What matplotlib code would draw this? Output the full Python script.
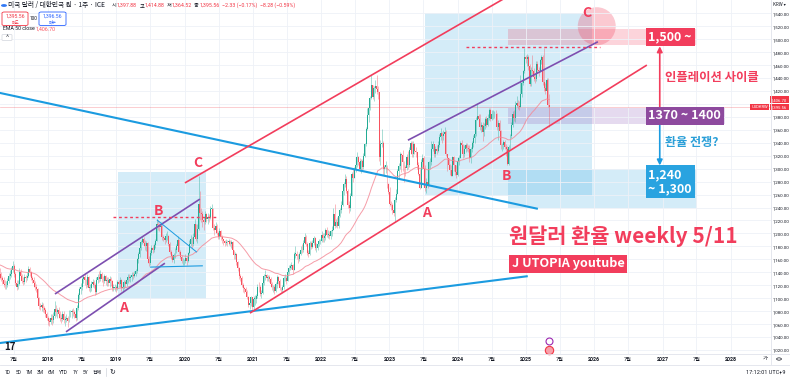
import numpy as np
import pandas as pd
import matplotlib
matplotlib.use("Agg")
import matplotlib.pyplot as plt
import matplotlib.dates as mdates
import matplotlib.transforms as mtrans
from matplotlib.patches import Rectangle, Ellipse, FancyBboxPatch, Circle
from matplotlib.lines import Line2D

plt.rcParams['font.family'] = ['Noto Sans CJK KR', 'DejaVu Sans']

# ---------------- data: weekly USD/KRW (close, high, low) ----------------
warmup_2016_close = [1196, 1203, 1210, 1199, 1197, 1211, 1234, 1239, 1204, 1189, 1180, 1162, 1145,
                     1152, 1145, 1140, 1140, 1160, 1172, 1190, 1185, 1165, 1166, 1172, 1165, 1152,
                     1150, 1145, 1138, 1120, 1115, 1105, 1120, 1125, 1120, 1110, 1118, 1110, 1101,
                     1112, 1127, 1135, 1142, 1140, 1170, 1167, 1177, 1170, 1167, 1182, 1198, 1207]

w2017 = [(1194,1212,1188),(1180,1200,1176),(1170,1186,1162),(1163,1176,1156),
         (1150,1166,1142),(1145,1156,1136),(1140,1150,1130),(1133,1143,1127),
         (1134,1140,1126),(1148,1160,1132),(1130,1152,1127),(1118,1133,1112),(1117,1124,1110),
         (1122,1128,1113),(1138,1142,1120),(1137,1146,1130),(1131,1140,1126),
         (1128,1135,1122),(1122,1133,1117),(1120,1128,1114),(1121,1126,1114),
         (1126,1131,1117),(1134,1139,1123),(1138,1143,1130),(1144,1148,1133),
         (1150,1158,1140),(1137,1153,1133),(1124,1140,1120),(1117,1128,1112),
         (1122,1128,1114),(1140,1146,1120),(1134,1145,1128),(1127,1138,1123),
         (1125,1133,1120),(1132,1138,1122),(1131,1136,1125),(1135,1140,1128),(1145,1150,1132),
         (1140,1148,1134),(1131,1142,1128),(1128,1135,1124),(1123,1132,1118),
         (1118,1126,1113),(1114,1122,1109),(1100,1116,1096),(1088,1102,1084),
         (1087,1092,1082),(1090,1094,1080),(1085,1093,1079),(1082,1088,1077),(1075,1085,1071),(1070,1078,1066)]

w2018 = [(1064,1072,1058),(1063,1070,1057),(1070,1075,1060),(1067,1076,1058),(1072,1078,1061),
         (1083,1095,1070),(1078,1090,1073),(1081,1085,1070),(1075,1086,1069),
         (1070,1080,1065),(1068,1075,1062),(1075,1080,1065),(1066,1080,1061),
         (1068,1072,1057),(1070,1076,1063),(1065,1072,1055),(1078,1082,1063),(1078,1082,1071),
         (1080,1084,1070),(1078,1085,1073),(1076,1082,1069),(1070,1080,1065),
         (1085,1090,1067),(1105,1108,1081),(1114,1118,1099),(1118,1124,1107),
         (1129,1133,1113),(1133,1136,1123),(1128,1138,1120),(1120,1130,1115),(1132,1138,1117),
         (1116,1135,1111),(1116,1122,1109),(1122,1126,1111),(1125,1130,1117),
         (1120,1128,1115),(1109,1124,1105),(1128,1132,1107),(1133,1138,1123),
         (1130,1142,1125),(1138,1144,1127),(1130,1140,1125),(1126,1134,1119),(1134,1138,1123),
         (1127,1136,1121),(1128,1132,1119),(1124,1132,1119),(1129,1134,1118),
         (1126,1132,1119),(1116,1128,1111),(1116,1122,1111),(1117,1122,1111),(1115,1120,1109)]

w2019 = [(1125,1128,1112),(1122,1128,1117),(1128,1132,1118),(1115,1130,1111),
         (1118,1122,1110),(1125,1128,1114),(1122,1128,1117),(1128,1132,1119),
         (1133,1137,1124),(1131,1138,1127),(1132,1136,1125),(1136,1140,1127),
         (1135,1140,1130),(1138,1142,1132),(1142,1145,1134),(1160,1162,1139),(1168,1172,1155),
         (1177,1180,1163),(1187,1190,1174),(1191,1196,1183),(1185,1195,1180),
         (1180,1190,1175),(1185,1188,1173),(1160,1187,1155),(1155,1165,1150),
         (1170,1175,1152),(1178,1182,1166),(1175,1182,1170),(1182,1185,1172),(1188,1192,1178),
         (1215,1223,1188),(1213,1220,1205),(1210,1216,1204),(1212,1218,1204),
         (1194,1215,1190),(1193,1198,1188),(1190,1196,1184),(1196,1200,1186),(1196,1204,1190),
         (1183,1198,1180),(1172,1186,1168),(1165,1175,1160),(1159,1168,1156),
         (1167,1170,1155),(1175,1178,1162),(1180,1184,1170),(1190,1196,1178),
         (1172,1192,1168),(1163,1175,1160),(1157,1166,1155),(1157,1162,1152),(1157,1160,1152)]

w2020 = [(1162,1168,1155),(1158,1165,1152),(1170,1172,1156),(1183,1190,1168),
         (1192,1198,1180),(1183,1195,1178),(1195,1200,1180),(1214,1222,1194),
         (1191,1215,1188),(1207,1215,1185),(1246,1288,1205),(1232,1265,1220),(1230,1240,1218),
         (1220,1235,1210),(1217,1225,1205),(1230,1235,1215),(1222,1232,1218),
         (1226,1232,1215),(1225,1230,1218),(1238,1242,1222),(1238,1245,1230),
         (1208,1240,1205),(1206,1215,1198),(1212,1218,1200),(1201,1215,1198),(1195,1204,1192),
         (1204,1208,1192),(1195,1206,1190),(1191,1198,1185),(1188,1192,1182),
         (1185,1190,1180),(1187,1192,1182),(1186,1190,1180),(1188,1192,1182),(1184,1190,1180),
         (1186,1190,1178),(1174,1188,1170),(1166,1175,1160),(1169,1172,1160),
         (1156,1170,1152),(1146,1158,1142),(1135,1148,1130),(1131,1138,1126),
         (1121,1134,1118),(1115,1124,1110),(1114,1118,1108),(1110,1118,1105),(1102,1112,1098),
         (1090,1104,1086),(1093,1098,1084),(1102,1104,1088),(1086,1102,1082)]

w2021 = [(1099,1104,1082),(1099,1105,1090),(1103,1106,1093),(1118,1122,1100),
         (1117,1125,1110),(1107,1120,1104),(1108,1112,1100),(1123,1128,1106),
         (1134,1138,1120),(1136,1143,1128),(1131,1138,1126),(1132,1136,1127),(1130,1136,1125),
         (1122,1132,1118),(1117,1125,1113),(1117,1120,1110),(1111,1120,1106),
         (1122,1125,1110),(1132,1136,1116),(1127,1135,1122),(1115,1130,1112),(1113,1118,1109),
         (1117,1120,1110),(1131,1135,1114),(1131,1138,1126),(1126,1134,1122),
         (1141,1145,1126),(1147,1152,1138),(1150,1153,1143),(1151,1156,1145),
         (1143,1153,1138),(1169,1172,1143),(1169,1180,1162),(1165,1173,1160),(1160,1168,1155),
         (1168,1172,1157),(1175,1180,1166),(1174,1184,1170),(1185,1190,1172),
         (1195,1200,1183),(1183,1198,1180),(1170,1186,1167),(1168,1175,1164),
         (1185,1188,1167),(1179,1188,1176),(1185,1190,1177),(1193,1196,1182),(1177,1195,1174),
         (1178,1185,1172),(1184,1188,1174),(1188,1192,1180),(1189,1192,1184)]

w2022 = [(1197,1204,1186),(1193,1200,1186),(1196,1200,1187),(1205,1208,1190),(1198,1210,1195),
         (1198,1205,1193),(1196,1203,1192),(1203,1206,1192),(1206,1212,1196),
         (1230,1240,1206),(1212,1245,1208),(1218,1222,1210),(1212,1226,1208),
         (1227,1230,1208),(1236,1240,1225),(1244,1250,1232),(1265,1272,1243),
         (1276,1280,1260),(1284,1292,1272),(1265,1288,1262),(1244,1268,1240),(1240,1250,1231),
         (1258,1262,1235),(1292,1295,1258),(1286,1300,1280),(1300,1303,1286),
         (1306,1311,1295),(1318,1326,1303),(1311,1320,1305),(1300,1316,1296),
         (1312,1315,1293),(1302,1315,1298),(1320,1324,1300),(1338,1340,1318),(1362,1365,1335),
         (1383,1393,1360),(1394,1400,1372),(1409,1413,1390),(1430,1444,1407),
         (1411,1430,1407),(1424,1428,1405),(1427,1437,1417),(1423,1444,1416),(1419,1428,1408),
         (1318,1419,1312),(1338,1344,1306),(1340,1362,1334),(1300,1342,1290),
         (1302,1306,1288),(1305,1312,1294),(1277,1305,1270),(1264,1278,1261)]

w2023 = [(1246,1272,1242),(1244,1250,1236),(1236,1247,1230),(1231,1238,1227),(1252,1256,1217),
         (1261,1268,1248),(1297,1300,1261),(1304,1308,1285),(1322,1325,1300),
         (1321,1324,1295),(1311,1329,1296),(1303,1312,1280),(1301,1306,1288),
         (1318,1322,1298),(1305,1327,1300),(1329,1333,1303),(1340,1343,1322),
         (1323,1343,1318),(1338,1342,1318),(1328,1340,1322),(1325,1334,1318),(1306,1325,1300),
         (1292,1310,1290),(1270,1300,1268),(1310,1315,1270),(1317,1322,1300),
         (1299,1319,1296),(1270,1305,1265),(1279,1285,1262),(1274,1285,1270),(1310,1312,1275),
         (1310,1317,1300),(1330,1342,1306),(1338,1343,1327),(1322,1338,1318),
         (1331,1335,1318),(1327,1336,1322),(1336,1342,1325),(1349,1354,1334),
         (1355,1363,1345),(1351,1357,1340),(1353,1359,1345),(1357,1364,1348),(1322,1360,1319),
         (1316,1320,1296),(1305,1316,1300),(1298,1307,1291),(1289,1305,1288),
         (1318,1320,1288),(1306,1319,1296),(1295,1306,1290),(1290,1305,1286)]

w2024 = [(1312,1318,1288),(1316,1321,1305),(1339,1343,1316),(1336,1344,1328),(1323,1338,1316),
         (1330,1336,1318),(1336,1340,1325),(1332,1340,1327),(1331,1337,1326),
         (1316,1336,1310),(1330,1334,1308),(1339,1343,1325),(1347,1352,1333),
         (1353,1357,1340),(1375,1380,1350),(1382,1400,1375),(1376,1384,1370),(1364,1384,1360),
         (1368,1372,1357),(1356,1372,1342),(1366,1370,1350),(1376,1380,1362),
         (1368,1382,1364),(1378,1385,1366),(1391,1394,1375),(1377,1393,1374),
         (1384,1390,1375),(1384,1390,1377),(1385,1389,1379),(1384,1390,1380),(1365,1386,1360),
         (1370,1375,1345),(1358,1375,1355),(1336,1360,1330),(1337,1340,1327),
         (1341,1345,1330),(1334,1344,1330),(1330,1338,1320),(1307,1335,1305),(1333,1336,1306),
         (1350,1353,1330),(1368,1372,1348),(1384,1389,1365),(1379,1390,1373),
         (1399,1404,1372),(1401,1412,1395),(1397,1406,1392),(1396,1405,1390),
         (1415,1445,1396),(1433,1437,1410),(1451,1453,1430),(1472,1487,1448),(1469,1475,1463)]

w2025 = [(1473,1477,1458),(1459,1475,1452),(1431,1461,1428),(1452,1457,1428),
         (1451,1475,1446),(1441,1455,1436),(1438,1446,1432),(1462,1466,1435),
         (1453,1467,1448),(1451,1457,1443),(1468,1470,1450),(1472,1475,1462),(1434,1475,1430),
         (1424,1487,1420),(1420,1432,1415),(1437,1440,1418),(1397.88,1440,1396),
         (1395.56,1414.88,1364.52)]

last_bar_date = "2025-05-05"
ema_last = 1406.70
last_close = 1395.56
bid, ask, spread = "1,395.56", "1,396.56", "100"
ohlc_header = [("시", "1,397.88"), ("고", "1,414.88"), ("저", "1,364.52"), ("종", "1,395.56")]
change_header = ["−2.33 (−0.17%)", "−8.28 (−0.59%)"]
price_ticks = list(range(1020, 1541, 20))

# ---------------- drawings anchored on (date, price) ----------------
RED = '#f23d5c'
PURPLE = '#7d4fb0'
BLUE = '#1b9be0'
trend_lines = [
    ("2017-03-01", 1420.0, "2025-03-05", 1238.0, BLUE, 1.5),
    ("2017-03-01", 1029.0, "2025-01-10", 1134.0, BLUE, 1.5),
    ("2020-12-16", 1077.0, "2026-10-09", 1460.0, RED, 1.2),
    ("2020-01-03", 1278.0, "2024-09-25", 1566.0, RED, 1.2),
    ("2018-02-07", 1106.5, "2020-03-23", 1253.0, PURPLE, 1.2),
    ("2018-04-07", 1048.0, "2019-09-18", 1154.0, PURPLE, 1.2),
    ("2023-04-10", 1344.0, "2026-01-20", 1496.0, PURPLE, 1.2),
    ("2019-08-06", 1221.0, "2020-03-07", 1171.0, BLUE, 0.7),
    ("2019-06-30", 1148.0, "2020-04-08", 1150.0, BLUE, 0.8),
]
dotted_levels = [("2018-12-14", "2020-06-17", 1225.0), ("2024-02-14", "2026-01-30", 1488.0)]
blue_boxes = [("2019-01-10", "2020-04-24", 1099.0, 1295.0),
              ("2023-07-09", "2025-12-19", 1258.0, 1541.0),
              ("2024-09-25", "2027-07-03", 1240.0, 1300.0)]
pink_band = ("2024-09-25", "2027-07-03", 1491.0, 1516.0)
lavender_band = ("2024-09-25", "2027-11-30", 1369.0, 1394.0)
wave_labels = [("A", "2019-02-06", 1085), ("B", "2019-08-17", 1235), ("C", "2020-03-13", 1309),
               ("A", "2023-07-20", 1232), ("B", "2024-09-20", 1289), ("C", "2025-11-22", 1540)]

# ---------------- build series ----------------
weeks = w2017 + w2018 + w2019 + w2020 + w2021 + w2022 + w2023 + w2024 + w2025
close = np.array([w[0] for w in weeks], float)
high = np.array([w[1] for w in weeks], float)
low = np.array([w[2] for w in weeks], float)
open_ = np.r_[warmup_2016_close[-1], close[:-1]]
high = np.maximum(high, np.maximum(open_, close))
low = np.minimum(low, np.minimum(open_, close))
dates = pd.date_range(end=last_bar_date, periods=len(weeks), freq="W-MON")
ema_full = pd.Series(list(warmup_2016_close) + list(close)).ewm(span=50, adjust=False).mean()
ema = ema_full.values[len(warmup_2016_close):]

W, H = 790, 377
fig = plt.figure(figsize=(W / 100, H / 100), dpi=100)
fig.patch.set_facecolor('white')
def fx(x): return x / W
def fy(y): return 1 - y / H
ax = fig.add_axes([0, fy(354), fx(771), 354 / H])
D = lambda s: mdates.date2num(pd.Timestamp(s))
NUMFONT = ['Roboto', 'Noto Sans CJK KR', 'DejaVu Sans']

ax.set_xlim(D("2017-04-19"), D("2028-08-03"))
ax.set_ylim(1013.8, 1560.5)
for s in ax.spines.values():
    s.set_visible(False)

# ticks
xt, xl, xb = [], [], []
for yr in range(2017, 2029):
    if yr >= 2018:
        xt.append(D(f"{yr}-01-01")); xl.append(str(yr)); xb.append(True)
    if yr <= 2027:
        xt.append(D(f"{yr}-07-01")); xl.append("7월"); xb.append(False)
order = np.argsort(xt)
xt = [xt[i] for i in order]; xl = [xl[i] for i in order]; xb = [xb[i] for i in order]
ax.set_xticks(xt)
ax.set_xticklabels(xl)
for lab, b in zip(ax.get_xticklabels(), xb):
    lab.set_fontweight('bold' if b else 'normal')
    lab.set_family(NUMFONT)
ax.tick_params(axis='x', length=0, pad=2.3, labelsize=3.8, labelcolor='#131722')
ax.yaxis.tick_right()
ax.set_yticks(price_ticks)
ax.set_yticklabels([("" if v == 1400 else f"{v:,.2f}") for v in price_ticks])
for lab in ax.get_yticklabels():
    lab.set_family(NUMFONT)
ax.tick_params(axis='y', length=0, pad=1.0, labelsize=3.2, labelcolor='#131722')
ax.grid(True, color='#eef1f7', lw=0.6, zorder=0)

# shaded boxes
for d0, d1, p0, p1 in blue_boxes:
    ax.add_patch(Rectangle((D(d0), p0), D(d1) - D(d0), p1 - p0, fc='#29a3e0', alpha=0.2, ec='none', zorder=1))
d0, d1, p0, p1 = pink_band
ax.add_patch(Rectangle((D(d0), p0), D(d1) - D(d0), p1 - p0, fc=RED, alpha=0.22, ec='none', zorder=1))
d0, d1, p0, p1 = lavender_band
ax.add_patch(Rectangle((D(d0), p0), D(d1) - D(d0), p1 - p0, fc='#9a6cc0', alpha=0.25, ec='none', zorder=1))
ax.add_patch(Ellipse((D("2026-01-14"), 1520), 203, 58.7, fc=RED, alpha=0.28, ec='none', zorder=1))

# candles
dn = mdates.date2num(dates)
up = close >= open_
col = np.where(up, '#22ab94', '#f7525f')
ax.vlines(dn, low, high, colors=col, lw=0.5, alpha=0.55, zorder=3)
ax.bar(dn, np.maximum(np.abs(close - open_), 0.8), bottom=np.minimum(close, open_), width=5.2,
       color=col, lw=0, zorder=4)
ax.plot(dn, ema, color='#f48b98', lw=0.7, alpha=0.85, zorder=5)
ax.axhline(last_close, color='#f23645', lw=0.5, alpha=0.35, zorder=2)

# drawings
for a, pa, b, pb, c, lw in trend_lines:
    ax.plot([D(a), D(b)], [pa, pb], color=c, lw=lw, zorder=6, solid_capstyle='butt')
for a, b, p in dotted_levels:
    ax.plot([D(a), D(b)], [p, p], color=RED, lw=1.0, ls=(0, (2, 2)), zorder=6)
for t, d, p in wave_labels:
    ax.text(D(d), p, t, color=RED, fontsize=10, fontweight='bold', ha='center', va='center', zorder=8)

# arrows
ax.annotate('', xy=(D("2026-12-17"), 1489), xytext=(D("2026-12-17"), 1395),
            arrowprops=dict(arrowstyle='-|>', color=RED, lw=1.2, mutation_scale=8, shrinkA=0, shrinkB=0), zorder=7)
ax.annotate('', xy=(D("2026-12-17"), 1305), xytext=(D("2026-12-17"), 1369),
            arrowprops=dict(arrowstyle='-|>', color=BLUE, lw=1.2, mutation_scale=8, shrinkA=0, shrinkB=0), zorder=7)

# label boxes
ax.text(D("2026-10-17"), 1503, "1,500 ~", color='white', fontsize=9, fontweight='bold', ha='left', va='center',
        bbox=dict(boxstyle='square,pad=0.22', fc=RED, ec='none'), zorder=9)
ax.text(D("2026-10-17"), 1381.5, "1370 ~ 1400", color='white', fontsize=9.2, fontweight='bold', ha='left', va='center',
        bbox=dict(boxstyle='square,pad=0.22', fc='#8e4a9e', ec='none'), zorder=9)
ax.text(D("2026-10-17"), 1279.5, "1,240\n~ 1,300", color='white', fontsize=9, fontweight='bold', ha='left', va='center',
        linespacing=1.15, bbox=dict(boxstyle='square,pad=0.22', fc='#29a3e0', ec='none'), zorder=9)
ax.text(D("2027-01-13"), 1441.5, "인플레이션 사이클", color=RED, fontsize=8.9, fontweight='bold', ha='left', va='center', zorder=9)
ax.text(D("2027-01-13"), 1340, "환율 전쟁?", color='#2a9fd8', fontsize=8.7, fontweight='bold', ha='left', va='center', zorder=9)
ax.text(D("2024-10-01"), 1196, "원달러 환율 weekly 5/11", color=RED, fontsize=15.0, fontweight='bold', ha='left', va='center', zorder=9)
ax.text(D("2024-10-16"), 1153, "J UTOPIA youtube", color='white', fontsize=9.1, fontweight='bold', ha='left', va='center',
        bbox=dict(boxstyle='square,pad=0.2', fc=RED, ec='none'), zorder=9)

# price axis labels
tr = mtrans.blended_transform_factory(ax.transAxes, ax.transData)
for val in (ema_last, last_close):
    ax.text(1.0, val, f"{val:,.2f}", transform=tr, ha='left', va='center', fontsize=3.1, color='white',
            family=NUMFONT, bbox=dict(boxstyle='square,pad=0.3', fc='#f23645', ec='none'), clip_on=False, zorder=10)
ax.text(0.996, last_close, "USDKRW", transform=tr, ha='right', va='center', fontsize=3.0, color='white',
        family=NUMFONT, bbox=dict(boxstyle='square,pad=0.3', fc='#f23645', ec='none'), clip_on=False, zorder=10)

# event markers
tr2 = mtrans.blended_transform_factory(ax.transData, ax.transAxes)
ax.plot([D(last_bar_date)], [1 - 341 / 354], marker='o', ms=5, mfc='white', mec='#9c27b0', mew=0.8,
        transform=tr2, clip_on=False, zorder=10)
ax.plot([D(last_bar_date)], [1 - 350 / 354], marker='o', ms=6, mfc='#f7a0aa', mec='#f23645', mew=0.8,
        transform=tr2, clip_on=False, zorder=10)

# frame lines
fig.add_artist(Line2D([fx(771), fx(771)], [fy(0), fy(364)], color='#e0e3eb', lw=0.6))
fig.add_artist(Line2D([0, 1], [fy(354), fy(354)], color='#e0e3eb', lw=0.6))
fig.add_artist(Line2D([0, 1], [fy(364.5), fy(364.5)], color='#e0e3eb', lw=0.6))

# header
fig.canvas.draw()
rend = fig.canvas.get_renderer()
def seq(x, y, parts, size, gap=0.0):
    for s, c, wgt in parts:
        t = fig.text(fx(x), fy(y), s, fontsize=size, color=c, fontweight=wgt, ha='left', va='center',
                     family=NUMFONT)
        x += t.get_window_extent(rend).width + gap
    return x

fig.add_artist(Circle((fx(4), fy(5.5)), 3 / W, transform=fig.transFigure, fc='#3179f5', ec='none'))
fig.text(fx(8), fy(5.5), "미국 달러 / 대한민국 원 · 1주 · ICE", fontsize=4.8, color='#131722', ha='left', va='center')
fig.add_artist(Circle((fx(101), fy(5.5)), 3 / W, transform=fig.transFigure, fc='#e8e9ee', ec='none'))
x = 112
for lab, val in ohlc_header:
    x = seq(x, 5.5, [(lab, '#131722', 'normal'), (val, '#f23645', 'normal')], 3.8) + 2.5
for ch in change_header:
    x = seq(x, 5.5, [(ch, '#f23645', 'normal')], 3.8) + 3

fig.add_artist(FancyBboxPatch((fx(2), fy(25.5)), 26 / W, 13.5 / H, boxstyle='round,pad=0,rounding_size=0.003',
                              transform=fig.transFigure, fc='white', ec='#f23645', lw=0.6))
fig.text(fx(15), fy(16), bid, fontsize=3.7, color='#f23645', ha='center', va='center', family=NUMFONT)
fig.text(fx(15), fy(22), "매도", fontsize=3.0, color='#f23645', ha='center', va='center')
fig.text(fx(33.5), fy(19), spread, fontsize=3.4, color='#131722', ha='center', va='center', family=NUMFONT)
fig.add_artist(FancyBboxPatch((fx(39), fy(25.5)), 27 / W, 13.5 / H, boxstyle='round,pad=0,rounding_size=0.003',
                              transform=fig.transFigure, fc='white', ec='#2962ff', lw=0.6))
fig.text(fx(52.5), fy(16), ask, fontsize=3.7, color='#2962ff', ha='center', va='center', family=NUMFONT)
fig.text(fx(52.5), fy(22), "매수", fontsize=3.0, color='#2962ff', ha='center', va='center')
seq(3, 28.8, [("EMA 50 close ", '#131722', 'normal'), (f"{ema_last:,.2f}", '#f7525f', 'normal')], 3.8)
fig.add_artist(FancyBboxPatch((fx(2), fy(40.5)), 10 / W, 6 / H, boxstyle='round,pad=0,rounding_size=0.002',
                              transform=fig.transFigure, fc='white', ec='#d1d4dc', lw=0.5))
fig.text(fx(7), fy(37.5), "^", fontsize=4, color='#131722', ha='center', va='center')

# price-scale corner + bottom bar
fig.text(fx(779), fy(5), "KRW ▾", fontsize=3.2, color='#131722', ha='center', va='center')
fig.text(fx(10), fy(347), "17", fontsize=7, fontweight='bold', color='#131722', ha='center', va='center')
fig.text(fx(765), fy(359), "가", fontsize=3.8, color='#131722', ha='center', va='center')
fig.add_artist(Circle((fx(779), fy(359)), 2.4 / W, transform=fig.transFigure, fc='none', ec='#131722', lw=0.5))
tb = ["1D", "5D", "1M", "3M", "6M", "YTD", "1Y", "5Y", "전체"]
xx = 5
for s in tb:
    t = fig.text(fx(xx), fy(372), s, fontsize=3.5, color='#131722', ha='left', va='center', family=NUMFONT)
    xx += t.get_window_extent(rend).width + 4.3
fig.add_artist(Line2D([fx(xx), fx(xx)], [fy(368), fy(376)], color='#d1d4dc', lw=0.5))
fig.text(fx(xx + 7), fy(372), "↻", fontsize=5, color='#131722', ha='center', va='center', family='DejaVu Sans')
fig.text(fx(786), fy(372), "17:12:01 UTC+9", fontsize=4.0, color='#131722', ha='right', va='center', family=NUMFONT)

fig.savefig("out.png", dpi=100, facecolor='white')
